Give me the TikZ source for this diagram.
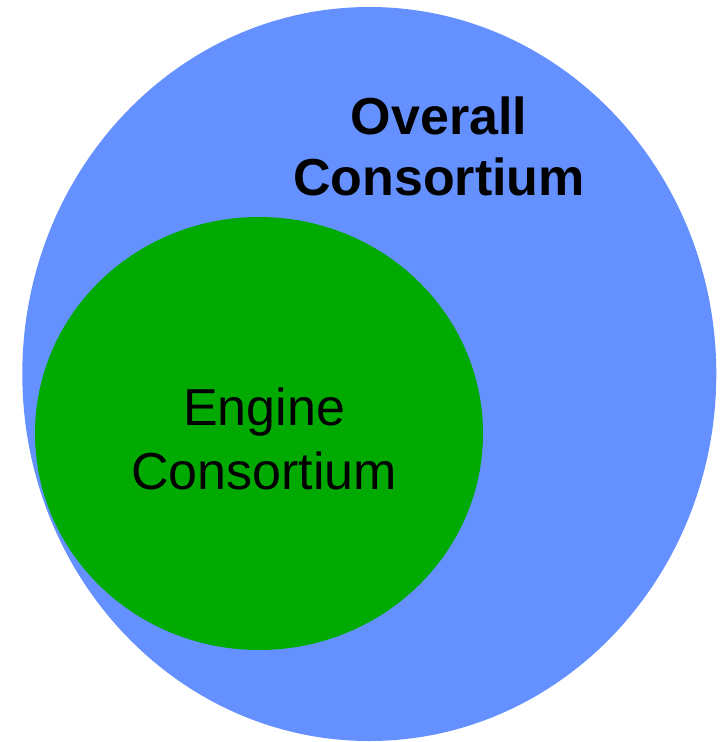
\documentclass[tikz,border=0pt]{standalone}
\usepackage{fontspec}
\setmainfont{Liberation Sans}
\usetikzlibrary{shapes.geometric}
\definecolor{overallblue}{RGB}{100,145,255}
\definecolor{enginegreen}{RGB}{0,170,0}
\tikzset{
	every path/.style={thick},
	align=center,
	consortium/.style={
		ellipse,
		inner sep=0pt,
		draw=none,
	},
	overallset/.style={
		consortium,
		fill=overallblue,
	},
	engineset/.style={
		consortium,
		fill=enginegreen,
	},
	setlabel/.style={
		inner sep=0pt,
		text=black,
	},
}
\begin{document}
\begin{tikzpicture}[x=1pt,y=-1pt]
	\useasboundingbox (0,0) rectangle (721,742);

	\node[overallset, minimum width=694pt, minimum height=734pt] (overall) at (369.3,374) {};
	\node[engineset, minimum width=448pt, minimum height=433pt] (engine) at (259,433.5) {};

%%%

	\node[setlabel, font=\fontsize{52}{61}\selectfont\bfseries] (overalltext) at (439,146) {Overall\\Consortium};
	\node[setlabel, font=\fontsize{52}{64}\selectfont] (enginetext) at (264,439) {Engine\\Consortium};

\end{tikzpicture}
\end{document}
